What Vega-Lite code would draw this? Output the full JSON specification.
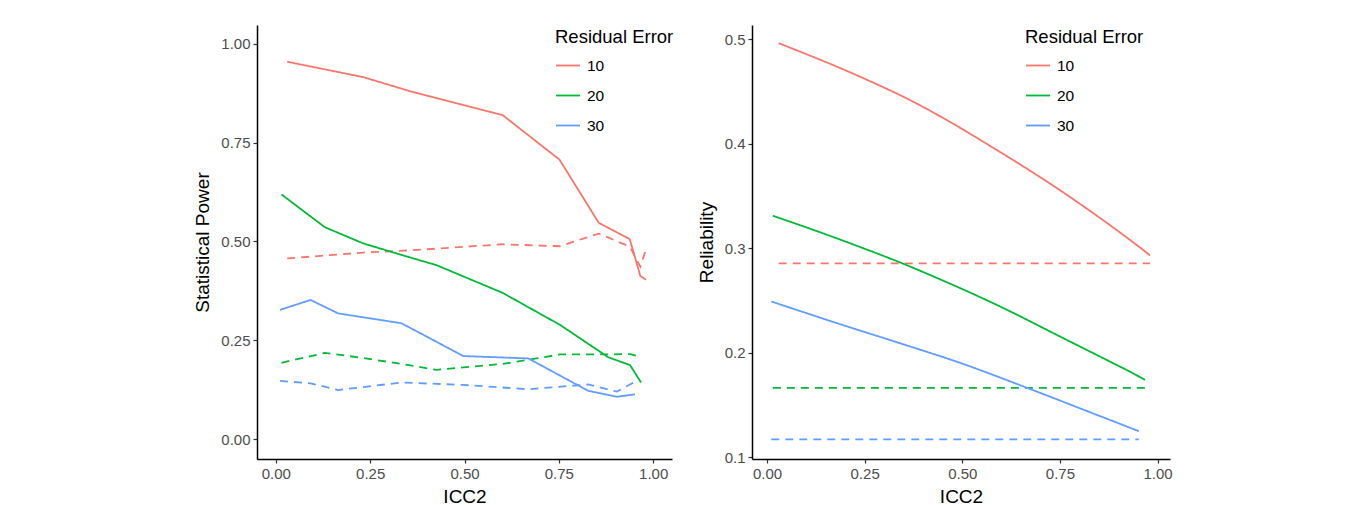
{
  "$schema": "https://vega.github.io/schema/vega-lite/v6.json",
  "padding": {"left": 193, "top": 25, "right": 10, "bottom": 0},
  "background": "white",
  "config": {
    "font": "Liberation Sans",
    "view": {"stroke": null},
    "axis": {
      "grid": false,
      "domainColor": "black",
      "domainWidth": 1.5,
      "tickColor": "#333333",
      "tickWidth": 1.2,
      "tickSize": 4,
      "labelPadding": 3,
      "labelFontSize": 15,
      "labelColor": "#4D4D4D",
      "titleFontSize": 19,
      "titleFontWeight": "normal",
      "titleColor": "black"
    },
    "legend": {
      "titleFontSize": 18.5,
      "titleFontWeight": "normal",
      "titleColor": "black",
      "labelFontSize": 15.5,
      "labelColor": "black",
      "symbolType": "stroke",
      "symbolSize": 576,
      "symbolStrokeWidth": 2,
      "rowPadding": 8,
      "titlePadding": 6,
      "labelOffset": 6
    },
    "line": {"strokeWidth": 1.8}
  },
  "datasets": {
    "power": [
      {"icc2": 0.030, "value": 0.955, "error": "10", "type": "solid"},
      {"icc2": 0.232, "value": 0.916, "error": "10", "type": "solid"},
      {"icc2": 0.364, "value": 0.878, "error": "10", "type": "solid"},
      {"icc2": 0.601, "value": 0.820, "error": "10", "type": "solid"},
      {"icc2": 0.752, "value": 0.707, "error": "10", "type": "solid"},
      {"icc2": 0.856, "value": 0.547, "error": "10", "type": "solid"},
      {"icc2": 0.938, "value": 0.506, "error": "10", "type": "solid"},
      {"icc2": 0.966, "value": 0.413, "error": "10", "type": "solid"},
      {"icc2": 0.981, "value": 0.403, "error": "10", "type": "solid"},
      {"icc2": 0.030, "value": 0.457, "error": "10", "type": "dashed"},
      {"icc2": 0.232, "value": 0.472, "error": "10", "type": "dashed"},
      {"icc2": 0.364, "value": 0.478, "error": "10", "type": "dashed"},
      {"icc2": 0.601, "value": 0.493, "error": "10", "type": "dashed"},
      {"icc2": 0.752, "value": 0.488, "error": "10", "type": "dashed"},
      {"icc2": 0.856, "value": 0.520, "error": "10", "type": "dashed"},
      {"icc2": 0.938, "value": 0.487, "error": "10", "type": "dashed"},
      {"icc2": 0.966, "value": 0.436, "error": "10", "type": "dashed"},
      {"icc2": 0.981, "value": 0.480, "error": "10", "type": "dashed"},
      {"icc2": 0.015, "value": 0.619, "error": "20", "type": "solid"},
      {"icc2": 0.130, "value": 0.536, "error": "20", "type": "solid"},
      {"icc2": 0.232, "value": 0.495, "error": "20", "type": "solid"},
      {"icc2": 0.333, "value": 0.466, "error": "20", "type": "solid"},
      {"icc2": 0.426, "value": 0.440, "error": "20", "type": "solid"},
      {"icc2": 0.601, "value": 0.370, "error": "20", "type": "solid"},
      {"icc2": 0.753, "value": 0.289, "error": "20", "type": "solid"},
      {"icc2": 0.881, "value": 0.207, "error": "20", "type": "solid"},
      {"icc2": 0.939, "value": 0.187, "error": "20", "type": "solid"},
      {"icc2": 0.968, "value": 0.143, "error": "20", "type": "solid"},
      {"icc2": 0.015, "value": 0.193, "error": "20", "type": "dashed"},
      {"icc2": 0.130, "value": 0.218, "error": "20", "type": "dashed"},
      {"icc2": 0.232, "value": 0.205, "error": "20", "type": "dashed"},
      {"icc2": 0.333, "value": 0.190, "error": "20", "type": "dashed"},
      {"icc2": 0.426, "value": 0.175, "error": "20", "type": "dashed"},
      {"icc2": 0.601, "value": 0.190, "error": "20", "type": "dashed"},
      {"icc2": 0.753, "value": 0.214, "error": "20", "type": "dashed"},
      {"icc2": 0.881, "value": 0.214, "error": "20", "type": "dashed"},
      {"icc2": 0.939, "value": 0.215, "error": "20", "type": "dashed"},
      {"icc2": 0.968, "value": 0.207, "error": "20", "type": "dashed"},
      {"icc2": 0.011, "value": 0.327, "error": "30", "type": "solid"},
      {"icc2": 0.092, "value": 0.352, "error": "30", "type": "solid"},
      {"icc2": 0.165, "value": 0.318, "error": "30", "type": "solid"},
      {"icc2": 0.333, "value": 0.293, "error": "30", "type": "solid"},
      {"icc2": 0.497, "value": 0.210, "error": "30", "type": "solid"},
      {"icc2": 0.669, "value": 0.204, "error": "30", "type": "solid"},
      {"icc2": 0.828, "value": 0.122, "error": "30", "type": "solid"},
      {"icc2": 0.904, "value": 0.107, "error": "30", "type": "solid"},
      {"icc2": 0.952, "value": 0.113, "error": "30", "type": "solid"},
      {"icc2": 0.011, "value": 0.147, "error": "30", "type": "dashed"},
      {"icc2": 0.092, "value": 0.141, "error": "30", "type": "dashed"},
      {"icc2": 0.165, "value": 0.124, "error": "30", "type": "dashed"},
      {"icc2": 0.333, "value": 0.143, "error": "30", "type": "dashed"},
      {"icc2": 0.497, "value": 0.137, "error": "30", "type": "dashed"},
      {"icc2": 0.669, "value": 0.126, "error": "30", "type": "dashed"},
      {"icc2": 0.828, "value": 0.138, "error": "30", "type": "dashed"},
      {"icc2": 0.904, "value": 0.120, "error": "30", "type": "dashed"},
      {"icc2": 0.952, "value": 0.145, "error": "30", "type": "dashed"}
    ],
    "reliability": [
      {"icc2": 0.030, "value": 0.496, "error": "10", "type": "solid"},
      {"icc2": 0.232, "value": 0.465, "error": "10", "type": "solid"},
      {"icc2": 0.364, "value": 0.442, "error": "10", "type": "solid"},
      {"icc2": 0.601, "value": 0.391, "error": "10", "type": "solid"},
      {"icc2": 0.752, "value": 0.355, "error": "10", "type": "solid"},
      {"icc2": 0.856, "value": 0.328, "error": "10", "type": "solid"},
      {"icc2": 0.938, "value": 0.3055, "error": "10", "type": "solid"},
      {"icc2": 0.966, "value": 0.2975, "error": "10", "type": "solid"},
      {"icc2": 0.981, "value": 0.293, "error": "10", "type": "solid"},
      {"icc2": 0.030, "value": 0.2855, "error": "10", "type": "dashed"},
      {"icc2": 0.981, "value": 0.2855, "error": "10", "type": "dashed"},
      {"icc2": 0.015, "value": 0.331, "error": "20", "type": "solid"},
      {"icc2": 0.130, "value": 0.316, "error": "20", "type": "solid"},
      {"icc2": 0.232, "value": 0.302, "error": "20", "type": "solid"},
      {"icc2": 0.333, "value": 0.2875, "error": "20", "type": "solid"},
      {"icc2": 0.426, "value": 0.273, "error": "20", "type": "solid"},
      {"icc2": 0.601, "value": 0.2435, "error": "20", "type": "solid"},
      {"icc2": 0.753, "value": 0.215, "error": "20", "type": "solid"},
      {"icc2": 0.881, "value": 0.191, "error": "20", "type": "solid"},
      {"icc2": 0.939, "value": 0.180, "error": "20", "type": "solid"},
      {"icc2": 0.968, "value": 0.174, "error": "20", "type": "solid"},
      {"icc2": 0.015, "value": 0.1665, "error": "20", "type": "dashed"},
      {"icc2": 0.968, "value": 0.1665, "error": "20", "type": "dashed"},
      {"icc2": 0.011, "value": 0.249, "error": "30", "type": "solid"},
      {"icc2": 0.092, "value": 0.239, "error": "30", "type": "solid"},
      {"icc2": 0.165, "value": 0.230, "error": "30", "type": "solid"},
      {"icc2": 0.333, "value": 0.210, "error": "30", "type": "solid"},
      {"icc2": 0.497, "value": 0.190, "error": "30", "type": "solid"},
      {"icc2": 0.669, "value": 0.166, "error": "30", "type": "solid"},
      {"icc2": 0.828, "value": 0.143, "error": "30", "type": "solid"},
      {"icc2": 0.904, "value": 0.132, "error": "30", "type": "solid"},
      {"icc2": 0.952, "value": 0.125, "error": "30", "type": "solid"},
      {"icc2": 0.011, "value": 0.1172, "error": "30", "type": "dashed"},
      {"icc2": 0.952, "value": 0.1172, "error": "30", "type": "dashed"}
    ]
  },
  "hconcat": [
    {
      "width": 415,
      "height": 434,
      "data": {"name": "power"},
      "mark": {"type": "line", "clip": true},
      "encoding": {
        "x": {
          "field": "icc2", "type": "quantitative", "title": "ICC2",
          "scale": {"domain": [-0.05, 1.05], "nice": false, "zero": false},
          "axis": {"values": [0, 0.25, 0.5, 0.75, 1], "format": ".2f", "titlePadding": 6}
        },
        "y": {
          "field": "value", "type": "quantitative", "title": "Statistical Power",
          "scale": {"domain": [-0.0506, 1.048], "nice": false, "zero": false},
          "axis": {"values": [0, 0.25, 0.5, 0.75, 1], "format": ".2f", "titlePadding": 8}
        },
        "color": {
          "field": "error", "type": "nominal", "title": "Residual Error",
          "scale": {"domain": ["10", "20", "30"], "range": ["#F8766D", "#00BA38", "#619CFF"]},
          "legend": {"orient": "none", "legendX": 298, "legendY": 3}
        },
        "strokeDash": {
          "field": "type", "type": "nominal",
          "scale": {"domain": ["solid", "dashed"], "range": [[1, 0], [8, 6]]},
          "legend": null
        }
      }
    },
    {
      "width": 418,
      "height": 434,
      "data": {"name": "reliability"},
      "mark": {"type": "line", "clip": true, "interpolate": "monotone"},
      "encoding": {
        "x": {
          "field": "icc2", "type": "quantitative", "title": "ICC2",
          "scale": {"domain": [-0.0384, 1.032], "nice": false, "zero": false},
          "axis": {"values": [0, 0.25, 0.5, 0.75, 1], "format": ".2f", "titlePadding": 6}
        },
        "y": {
          "field": "value", "type": "quantitative", "title": "Reliability",
          "scale": {"domain": [0.0984, 0.5134], "nice": false, "zero": false},
          "axis": {"values": [0.1, 0.2, 0.3, 0.4, 0.5], "format": ".1f", "titlePadding": 8}
        },
        "color": {
          "field": "error", "type": "nominal", "title": "Residual Error",
          "scale": {"domain": ["10", "20", "30"], "range": ["#F8766D", "#00BA38", "#619CFF"]},
          "legend": {"orient": "none", "legendX": 273, "legendY": 3}
        },
        "strokeDash": {
          "field": "type", "type": "nominal",
          "scale": {"domain": ["solid", "dashed"], "range": [[1, 0], [8, 6]]},
          "legend": null
        }
      }
    }
  ],
  "resolve": {"scale": {"color": "independent", "x": "independent", "y": "independent"}},
  "spacing": 23
}
